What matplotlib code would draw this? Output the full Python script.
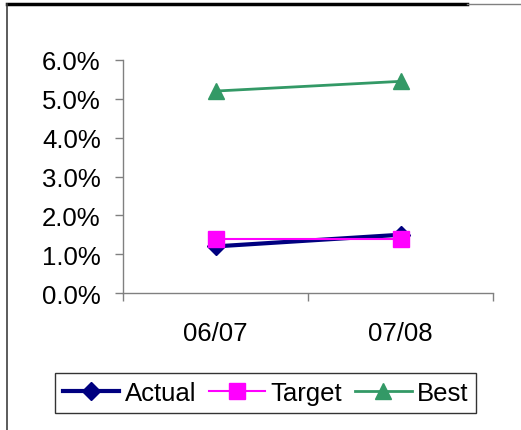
import matplotlib.pyplot as plt
from matplotlib.lines import Line2D

periods = ['06/07', '07/08']
actual = [1.2, 1.5]
target = [1.38, 1.38]
best = [5.2, 5.45]
yticks = [0, 1, 2, 3, 4, 5, 6]

plt.rcParams['font.family'] = ['Liberation Sans', 'DejaVu Sans']

fig = plt.figure(figsize=(5.21, 4.31), dpi=100)
ax = fig.add_axes([123 / 521, 1 - 294 / 431, 370 / 521, 233 / 431])

x = list(range(len(periods)))
ax.plot(x, actual, color='#000080', linewidth=3, marker='D', markersize=9, label='Actual')
ax.plot(x, target, color='#FF00FF', linewidth=1.5, marker='s', markersize=11, label='Target')
ax.plot(x, best, color='#339966', linewidth=2, marker='^', markersize=12, label='Best')

ax.set_xlim(-0.5, len(periods) - 0.5)
ax.set_ylim(0, 6)
ax.set_yticks(yticks)
ax.set_yticklabels(['%.1f%%' % v for v in yticks], fontsize=18.5)
ax.set_xticks([i - 0.5 for i in range(len(periods) + 1)])
ax.set_xticklabels([])
ax.set_xticks(x, minor=True)
ax.set_xticklabels(periods, minor=True, fontsize=18.5)
ax.tick_params(axis='x', which='minor', length=0, pad=20)
ax.tick_params(axis='both', which='major', length=6, width=1, color='#808080', direction='out')
ax.tick_params(axis='y', pad=10)

for s in ['top', 'right']:
    ax.spines[s].set_visible(False)
for s in ['left', 'bottom']:
    ax.spines[s].set_color('#808080')
    ax.spines[s].set_linewidth(1)

leg = fig.legend(loc='center', bbox_to_anchor=(265.5 / 521, 1 - 394 / 431), ncol=3,
                 fontsize=18.5, frameon=True, fancybox=False, handlelength=2.2,
                 handletextpad=0.2, columnspacing=0.5, borderpad=0.3, borderaxespad=0.2)
leg.get_frame().set_edgecolor('black')
leg.get_frame().set_linewidth(1)

# outer chart border
fig.add_artist(Line2D([7 / 521, 467 / 521], [1 - 5 / 431, 1 - 5 / 431], color='black', linewidth=2.5))
fig.add_artist(Line2D([467 / 521, 1], [1 - 5 / 431, 1 - 5 / 431], color='#808080', linewidth=1))
fig.add_artist(Line2D([7 / 521, 7 / 521], [0, 1 - 5 / 431], color='#404040', linewidth=1.2))

fig.savefig('out.png', dpi=100)
